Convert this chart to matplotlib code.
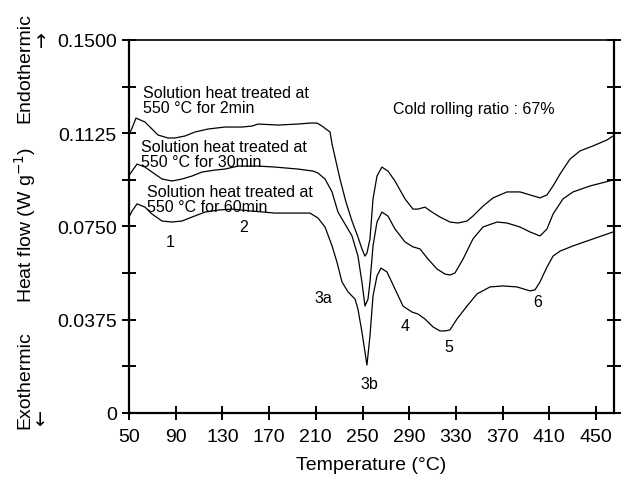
import matplotlib
matplotlib.use("Agg")
import matplotlib.pyplot as plt
from matplotlib.ticker import FixedLocator

plt.rcParams["font.family"] = ["Liberation Sans", "DejaVu Sans"]

# DSC traces (temperature in degC, heat flow in W/g)
temp_2min = [50.9, 52.3, 56.0, 63.7, 69.7, 74.8, 83.4, 89.4, 98.0, 106.5,
             117.7, 132.2, 146.8, 155.4, 160.5, 177.6, 194.8, 205.0, 211.0, 215.3,
             218.7, 222.2, 223.9, 230.7, 235.8, 241.0, 246.1, 249.5, 252.1, 253.8,
             256.4, 259.0, 262.4, 266.6, 271.8, 277.8, 286.4, 293.2, 297.5, 303.5,
             309.5, 316.4, 324.9, 331.8, 339.5, 344.6, 353.2, 361.8, 373.7, 384.9,
             393.5, 402.0, 408.0, 413.2, 419.2, 427.7, 436.3, 447.4, 459.4, 464.6]
flow_2min = [0.1130, 0.1142, 0.1186, 0.1170, 0.1142, 0.1118, 0.1106, 0.1106, 0.1114, 0.1130,
             0.1142, 0.1150, 0.1150, 0.1154, 0.1162, 0.1158, 0.1162, 0.1166, 0.1166, 0.1154,
             0.1142, 0.1130, 0.1082, 0.0941, 0.0849, 0.0772, 0.0708, 0.0660, 0.0631, 0.0643,
             0.0700, 0.0861, 0.0953, 0.0989, 0.0973, 0.0933, 0.0861, 0.0820, 0.0820, 0.0828,
             0.0808, 0.0788, 0.0768, 0.0764, 0.0772, 0.0792, 0.0832, 0.0865, 0.0889, 0.0889,
             0.0877, 0.0865, 0.0877, 0.0913, 0.0961, 0.1021, 0.1054, 0.1074, 0.1098, 0.1114]

temp_30min = [50.9, 52.6, 56.9, 63.7, 69.7, 78.3, 86.8, 95.4, 104.0, 112.5,
              123.7, 132.2, 143.4, 160.5, 175.1, 194.8, 207.6, 211.9, 217.9, 223.9,
              229.0, 235.0, 241.0, 246.1, 249.5, 252.1, 254.7, 256.4, 259.0, 262.4,
              266.6, 271.8, 277.8, 286.4, 293.2, 299.2, 306.1, 313.8, 320.6, 324.9,
              329.2, 336.1, 344.6, 353.2, 365.2, 373.7, 384.9, 393.5, 402.0, 408.0,
              413.2, 421.7, 430.3, 444.9, 464.6]
flow_30min = [0.0961, 0.0973, 0.1001, 0.0989, 0.0969, 0.0941, 0.0933, 0.0941, 0.0953, 0.0969,
              0.0977, 0.0981, 0.0993, 0.0993, 0.0989, 0.0981, 0.0973, 0.0965, 0.0941, 0.0889,
              0.0808, 0.0760, 0.0712, 0.0631, 0.0527, 0.0430, 0.0458, 0.0527, 0.0672, 0.0768,
              0.0808, 0.0792, 0.0740, 0.0688, 0.0668, 0.0660, 0.0619, 0.0579, 0.0559, 0.0555,
              0.0563, 0.0619, 0.0700, 0.0748, 0.0768, 0.0764, 0.0748, 0.0728, 0.0712, 0.0740,
              0.0800, 0.0861, 0.0889, 0.0913, 0.0937]

temp_60min = [50.9, 52.6, 56.9, 63.7, 69.7, 78.3, 86.8, 95.4, 104.0, 115.1,
              126.2, 138.2, 155.4, 175.1, 196.5, 205.0, 211.9, 217.9, 223.9, 228.1,
              232.4, 237.6, 243.6, 246.1, 249.5, 253.8, 256.4, 259.0, 262.4, 265.8,
              271.0, 277.8, 284.7, 292.4, 297.5, 303.5, 310.4, 316.4, 320.6, 324.9,
              330.9, 339.5, 348.1, 359.2, 370.3, 382.3, 393.5, 397.7, 402.0, 408.0,
              413.2, 419.2, 430.3, 444.9, 464.6]
flow_60min = [0.0796, 0.0812, 0.0841, 0.0828, 0.0800, 0.0772, 0.0768, 0.0772, 0.0788, 0.0808,
              0.0816, 0.0820, 0.0812, 0.0804, 0.0804, 0.0804, 0.0784, 0.0748, 0.0672, 0.0607,
              0.0527, 0.0487, 0.0458, 0.0418, 0.0326, 0.0193, 0.0310, 0.0471, 0.0551, 0.0583,
              0.0567, 0.0499, 0.0430, 0.0406, 0.0398, 0.0378, 0.0346, 0.0330, 0.0330, 0.0334,
              0.0378, 0.0430, 0.0479, 0.0507, 0.0511, 0.0507, 0.0491, 0.0495, 0.0527, 0.0587,
              0.0631, 0.0651, 0.0672, 0.0696, 0.0728]

x_ticks = [50, 90, 130, 170, 210, 250, 290, 330, 370, 410, 450]
y_ticks = [0, 0.0375, 0.0750, 0.1125, 0.1500]
y_tick_labels = ["0", "0.0375", "0.0750", "0.1125", "0.1500"]
y_minor = [0.01875, 0.05625, 0.09375, 0.13125]

# peak labels: (text, temperature, heat flow)
peak_labels = [("1", 85.1, 0.0688), ("2", 148.4, 0.0748), ("3a", 216.2, 0.0466),
               ("3b", 255.6, 0.0117), ("4", 286.6, 0.0350), ("5", 324.2, 0.0269),
               ("6", 400.3, 0.0450)]

curve_labels = [("Solution heat treated at\n550 °C for 2min", 62.0, 0.1259),
                ("Solution heat treated at\n550 °C for 30min", 60.3, 0.1042),
                ("Solution heat treated at\n550 °C for 60min", 65.4, 0.0861)]

W, H = 629, 485
fig = plt.figure(figsize=(W / 100, H / 100), dpi=100)
ax = fig.add_axes([129 / W, 1 - 414 / H, (614 - 129) / W, (414 - 41) / H])

for t, f in [(temp_2min, flow_2min), (temp_30min, flow_30min), (temp_60min, flow_60min)]:
    ax.plot(t, f, color="black", lw=0.9, solid_joinstyle="round")

ax.set_xlim(50, 465.4)
ax.set_ylim(0, 0.15)
ax.set_xticks(x_ticks)
ax.set_xticklabels([str(v) for v in x_ticks])
ax.set_yticks(y_ticks)
ax.set_yticklabels(y_tick_labels)
ax.yaxis.set_minor_locator(FixedLocator(y_minor))

ax.tick_params(axis="both", which="both", direction="inout", length=9.5, width=1.4,
               labelsize=14, colors="black")
ax.tick_params(axis="y", which="both", right=True, left=True)
ax.tick_params(axis="x", which="both", top=False, pad=6)
ax.tick_params(axis="y", which="both", pad=4)

for side in ["left", "bottom", "right"]:
    ax.spines[side].set_linewidth(1.6)
ax.spines["top"].set_linewidth(1.2)

for txt, x, y in curve_labels:
    ax.text(x, y, txt, fontsize=11.5, ha="left", va="center", linespacing=1.05)

ax.text(276.1, 0.1223, "Cold rolling ratio : 67%", fontsize=11.5, ha="left", va="center")

for txt, x, y in peak_labels:
    ax.text(x, y, txt, fontsize=11.5, ha="center", va="center")

ax.set_xlabel("Temperature (°C)", fontsize=14, labelpad=8)

# vertical axis caption with heat-direction markers
fig.text(25 / W, 1 - 68 / H, "Endothermic", rotation=90, fontsize=14, ha="center", va="center")
fig.text(25 / W, 1 - 225 / H, "Heat flow (W g$^{-1}$)", rotation=90, fontsize=14,
         ha="center", va="center")
fig.text(25 / W, 1 - 380 / H, "Exothermic", rotation=90, fontsize=14, ha="center", va="center")
fig.text(41 / W, 1 - 43 / H, "↑", fontsize=14, ha="center", va="center",
         family=["DejaVu Sans"])
fig.text(40 / W, 1 - 421 / H, "↓", fontsize=14, ha="center", va="center",
         family=["DejaVu Sans"])

fig.savefig("out.png", dpi=100)
